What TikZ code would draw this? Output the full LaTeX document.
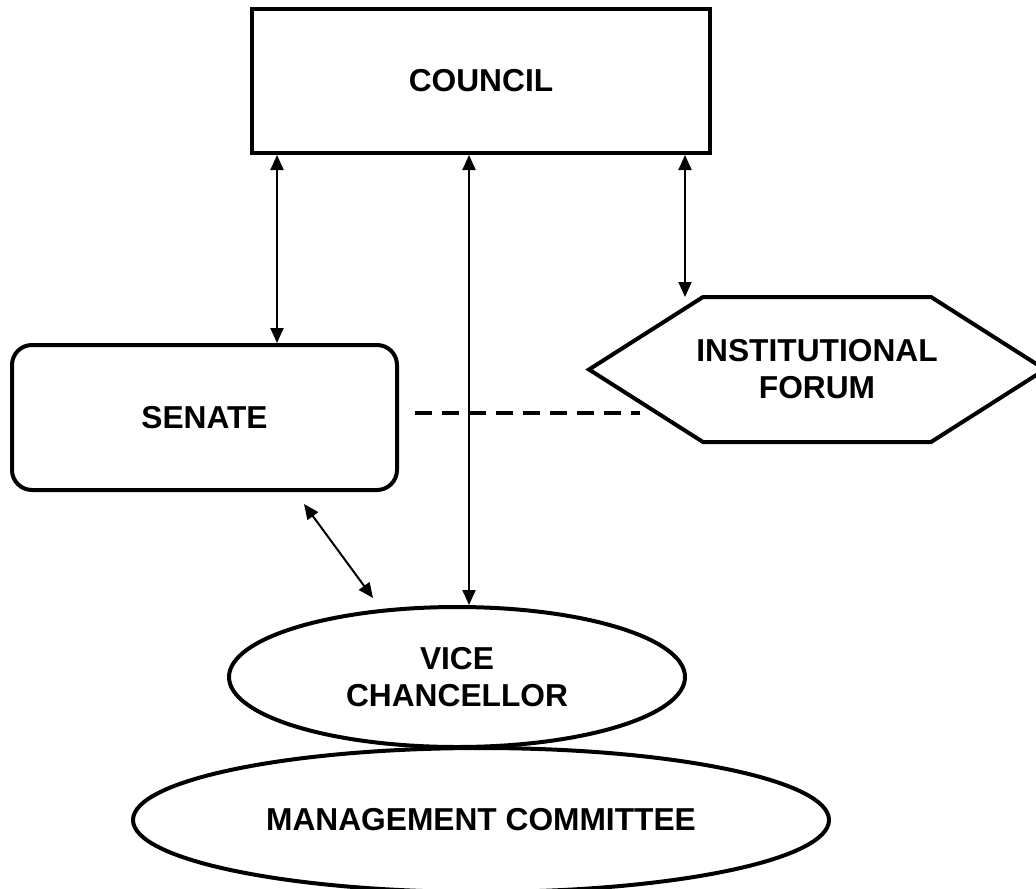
\documentclass[tikz,border=0pt]{standalone}
\usepackage{fontspec}
\setmainfont{Liberation Sans}
\usetikzlibrary{arrows.meta, positioning, shapes.geometric, calc}

\tikzset{
  box/.style={draw, line width=2pt, align=center, font=\bfseries\fontsize{15.85}{18.5}\selectfont},
  link/.style={line width=1pt, {Triangle[length=7.5pt,width=6.5pt]}-{Triangle[length=7.5pt,width=6.5pt]}},
  tie/.style={line width=2pt, dash pattern=on 8.5pt off 5pt},
}

\begin{document}
\begin{tikzpicture}[x=0.5pt, y=-0.5pt]
  \useasboundingbox (0,0) rectangle (1036,888);
  % bodies
  \node[box, rectangle, minimum width=229pt, minimum height=72pt] (council) at (481,81) {COUNCIL};
  \node[box, rectangle, rounded corners=10pt, minimum width=192.5pt, minimum height=72.5pt] (senate) at (204.5,417.5) {SENATE};
  \node[box, draw=none, outer sep=0pt, minimum width=228pt, minimum height=72.5pt] (forum) at (817,369.5) {INSTITUTIONAL\\FORUM};
  \draw[line width=2pt] (forum.west)
    -- ($(forum.north west)!0.25!(forum.north east)$)
    -- ($(forum.north west)!0.75!(forum.north east)$)
    -- (forum.east)
    -- ($(forum.south west)!0.75!(forum.south east)$)
    -- ($(forum.south west)!0.25!(forum.south east)$) -- cycle;
  \node[box, ellipse, minimum width=228pt, minimum height=70pt] (vc) at (457,677) {VICE\\CHANCELLOR};
  \node[box, ellipse, minimum width=348pt, minimum height=72pt] (mgmt) at (481,820) {MANAGEMENT COMMITTEE};

  % links
  \draw[link] ([xshift=-102pt]council.south) -- ([xshift=-102pt]council.south |- senate.north);
  \draw[link] ([xshift=-6pt]council.south) -- ([xshift=-6pt]council.south |- vc.north);
  \draw[link] ([xshift=102pt]council.south) -- ([xshift=102pt]council.south |- forum.north);
  \draw[link] ([shift={(-47.5pt,-6pt)}]senate.south east) -- ([shift={(-42pt,39.5pt)}]vc.center);
  \draw[tie] ([shift={(8pt,2.5pt)}]senate.east) -- ([shift={(25.5pt,-21.5pt)}]forum.west);
\end{tikzpicture}
\end{document}
